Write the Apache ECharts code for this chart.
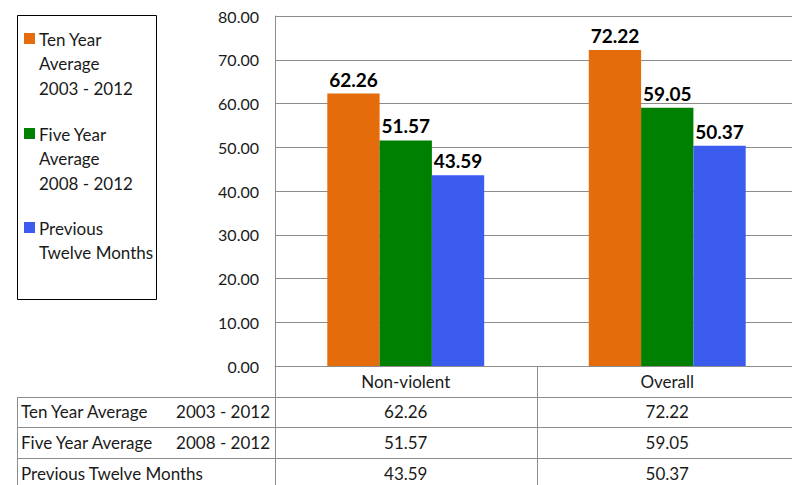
<!DOCTYPE html>
<html><head><meta charset="utf-8">
<script src="https://cdn.jsdelivr.net/npm/echarts@6/dist/echarts.min.js"></script>
<style>html,body{margin:0;padding:0;background:#fff}#c{width:792px;height:485px}</style>
</head><body><div id="c"></div>
<script>
const categories = ['Non-violent', 'Overall'];
const tenYear = [62.26, 72.22];
const fiveYear = [51.57, 59.05];
const prevTwelve = [43.59, 50.37];
const seriesNames = ['Ten Year Average 2003 - 2012', 'Five Year Average 2008 - 2012', 'Previous Twelve Months'];
const legendLines = [['Ten Year', 'Average', '2003 - 2012'], ['Five Year', 'Average', '2008 - 2012'], ['Previous', 'Twelve Months']];
const tableLabels = ['Ten Year Average', 'Five Year Average', 'Previous Twelve Months'];
const tablePeriods = ['2003 - 2012', '2008 - 2012', ''];
const colors = ['#E46C0A', '#008000', '#3C5CF0'];
const yTicks = { min: 0, max: 80, interval: 10 };

const FONT = 'Lato';
const GRID = '#8c8c8c';
const chart = echarts.init(document.getElementById('c'), null, { renderer: 'svg' });
const allValues = [tenYear, fiveYear, prevTwelve];

chart.setOption({
  animation: false,
  textStyle: { fontFamily: FONT },
  grid: { left: 275, width: 523, top: 16, height: 350, containLabel: false, outerBoundsMode: 'none' },
  xAxis: {
    type: 'category', data: categories,
    axisLine: { lineStyle: { color: GRID, width: 1 } },
    axisTick: { show: false },
    axisLabel: { fontSize: 17, color: '#1a1a1a', margin: 7, fontFamily: FONT }
  },
  yAxis: {
    type: 'value', min: yTicks.min, max: yTicks.max, interval: yTicks.interval,
    axisLine: { show: true, lineStyle: { color: GRID, width: 1 } },
    axisTick: { show: false },
    splitLine: { lineStyle: { color: GRID, width: 1 } },
    axisLabel: { fontSize: 16, color: '#1a1a1a', margin: 16, fontFamily: FONT, formatter: v => v.toFixed(2) }
  },
  series: allValues.map((vals, i) => ({
    name: seriesNames[i], type: 'bar', data: vals,
    barGap: '0%', barCategoryGap: '40%',
    itemStyle: { color: colors[i] },
    label: { show: true, position: 'top', distance: 5, fontSize: 19, fontWeight: 'bold', color: '#000', fontFamily: FONT, formatter: p => p.value.toFixed(2) }
  }))
});

const TF = '17px ' + FONT;
const g = [];
// legend
g.push({ type: 'rect', shape: { x: 17.5, y: 15.5, width: 139, height: 284 }, style: { fill: 'none', stroke: '#000', lineWidth: 1 } });
const legendTops = [39, 134, 228];
legendLines.forEach((lines, i) => {
  g.push({ type: 'rect', shape: { x: 24, y: legendTops[i] - 6, width: 11, height: 11 }, style: { fill: colors[i] } });
  lines.forEach((t, j) => {
    g.push({ type: 'text', x: 39, y: legendTops[i] + j * 24.5, style: { text: t, font: TF, fill: '#1a1a1a', textVerticalAlign: 'middle', verticalAlign: 'middle' } });
  });
});
// table
const rowLines = [397, 427, 458, 489];
const rowMid = [411.5, 442.5, 473];
const colMid = categories.map(c => chart.convertToPixel({ xAxisIndex: 0 }, c));
const catW = colMid[1] - colMid[0];
const gridLeft = colMid[0] - catW / 2;
const colBounds = [gridLeft, gridLeft + catW, gridLeft + 2 * catW];
rowLines.forEach(y => {
  g.push({ type: 'line', shape: { x1: 17, y1: y + 0.5, x2: 800, y2: y + 0.5 }, style: { stroke: GRID, lineWidth: 1 } });
});
g.push({ type: 'line', shape: { x1: 17.5, y1: 397, x2: 17.5, y2: 490 }, style: { stroke: GRID, lineWidth: 1 } });
colBounds.forEach(x => {
  g.push({ type: 'line', shape: { x1: Math.round(x) + 0.5, y1: 366, x2: Math.round(x) + 0.5, y2: 490 }, style: { stroke: GRID, lineWidth: 1 } });
});
tableLabels.forEach((t, i) => {
  g.push({ type: 'text', x: 21, y: rowMid[i], style: { text: t, font: TF, fill: '#1a1a1a', textVerticalAlign: 'middle', verticalAlign: 'middle' } });
  if (tablePeriods[i]) g.push({ type: 'text', x: 270, y: rowMid[i], style: { text: tablePeriods[i], font: TF, fill: '#1a1a1a', textAlign: 'right', align: 'right', textVerticalAlign: 'middle', verticalAlign: 'middle' } });
  allValues[i].forEach((v, k) => {
    g.push({ type: 'text', x: colMid[k], y: rowMid[i], style: { text: v.toFixed(2), font: TF, fill: '#1a1a1a', textAlign: 'center', align: 'center', textVerticalAlign: 'middle', verticalAlign: 'middle' } });
  });
});
chart.setOption({ graphic: { elements: g } });
</script></body></html>
